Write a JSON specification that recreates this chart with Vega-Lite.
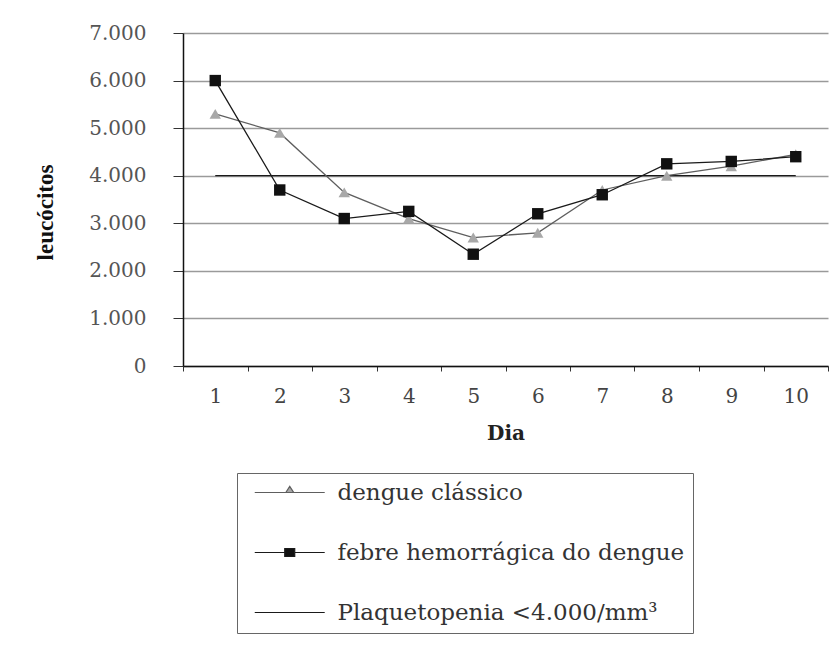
{
  "$schema": "https://vega.github.io/schema/vega-lite/v6.json",
  "autosize": "none",
  "padding": {"left": 183, "top": 33, "right": 6, "bottom": 294},
  "width": 645,
  "height": 333,
  "background": "white",
  "config": {"view": {"stroke": null}},
  "data": {
    "values": [
      {"Dia": 1, "serie": "Plaquetopenia <4.000/mm³", "leucocitos": 4000},
      {"Dia": 2, "serie": "Plaquetopenia <4.000/mm³", "leucocitos": 4000},
      {"Dia": 3, "serie": "Plaquetopenia <4.000/mm³", "leucocitos": 4000},
      {"Dia": 4, "serie": "Plaquetopenia <4.000/mm³", "leucocitos": 4000},
      {"Dia": 5, "serie": "Plaquetopenia <4.000/mm³", "leucocitos": 4000},
      {"Dia": 6, "serie": "Plaquetopenia <4.000/mm³", "leucocitos": 4000},
      {"Dia": 7, "serie": "Plaquetopenia <4.000/mm³", "leucocitos": 4000},
      {"Dia": 8, "serie": "Plaquetopenia <4.000/mm³", "leucocitos": 4000},
      {"Dia": 9, "serie": "Plaquetopenia <4.000/mm³", "leucocitos": 4000},
      {"Dia": 10, "serie": "Plaquetopenia <4.000/mm³", "leucocitos": 4000},
      {"Dia": 1, "serie": "dengue clássico", "leucocitos": 5300},
      {"Dia": 2, "serie": "dengue clássico", "leucocitos": 4900},
      {"Dia": 3, "serie": "dengue clássico", "leucocitos": 3650},
      {"Dia": 4, "serie": "dengue clássico", "leucocitos": 3100},
      {"Dia": 5, "serie": "dengue clássico", "leucocitos": 2700},
      {"Dia": 6, "serie": "dengue clássico", "leucocitos": 2800},
      {"Dia": 7, "serie": "dengue clássico", "leucocitos": 3700},
      {"Dia": 8, "serie": "dengue clássico", "leucocitos": 4000},
      {"Dia": 9, "serie": "dengue clássico", "leucocitos": 4200},
      {"Dia": 10, "serie": "dengue clássico", "leucocitos": 4450},
      {"Dia": 1, "serie": "febre hemorrágica do dengue", "leucocitos": 6000},
      {"Dia": 2, "serie": "febre hemorrágica do dengue", "leucocitos": 3700},
      {"Dia": 3, "serie": "febre hemorrágica do dengue", "leucocitos": 3100},
      {"Dia": 4, "serie": "febre hemorrágica do dengue", "leucocitos": 3250},
      {"Dia": 5, "serie": "febre hemorrágica do dengue", "leucocitos": 2350},
      {"Dia": 6, "serie": "febre hemorrágica do dengue", "leucocitos": 3200},
      {"Dia": 7, "serie": "febre hemorrágica do dengue", "leucocitos": 3600},
      {"Dia": 8, "serie": "febre hemorrágica do dengue", "leucocitos": 4250},
      {"Dia": 9, "serie": "febre hemorrágica do dengue", "leucocitos": 4300},
      {"Dia": 10, "serie": "febre hemorrágica do dengue", "leucocitos": 4400}
    ]
  },
  "encoding": {
    "x": {
      "field": "Dia", "type": "quantitative",
      "scale": {"domain": [0.5, 10.5], "nice": false, "zero": false},
      "axis": {
        "title": "Dia",
        "values": [0.5, 1.5, 2.5, 3.5, 4.5, 5.5, 6.5, 7.5, 8.5, 9.5, 10.5],
        "labelExpr": "datum.value < 10 ? format(datum.value + 0.5, 'd') : ''",
        "labelOffset": 32.25,
        "labelFlush": false, "labelBound": false, "labelOverlap": false,
        "grid": false,
        "domainColor": "#111", "domainWidth": 1.5,
        "tickColor": "#333", "tickSize": 5, "tickWidth": 1,
        "labelFont": "DejaVu Serif", "labelFontSize": 20, "labelColor": "#444",
        "labelPadding": 15,
        "titleFont": "DejaVu Serif", "titleFontSize": 20, "titleFontWeight": "bold", "titleColor": "#222",
        "titlePadding": 17
      }
    },
    "y": {
      "field": "leucocitos", "type": "quantitative",
      "scale": {"domain": [0, 7000], "nice": false},
      "axis": {
        "title": "leucócitos",
        "values": [0, 1000, 2000, 3000, 4000, 5000, 6000, 7000],
        "labelExpr": "replace(format(datum.value, ','), ',', '.')",
        "grid": true, "gridColor": "#9a9a9a", "gridWidth": 1.5,
        "domainColor": "#111", "domainWidth": 1.5,
        "tickColor": "#333", "tickSize": 10, "tickWidth": 1,
        "labelFont": "DejaVu Serif", "labelFontSize": 20, "labelColor": "#555",
        "labelPadding": 27,
        "titleFont": "Liberation Serif", "titleFontSize": 23, "titleFontWeight": "bold", "titleColor": "#111",
        "titleX": -138, "titleY": 179, "titleBaseline": "middle", "titleAlign": "center"
      }
    }
  },
  "layer": [
    {
      "mark": {"type": "line", "strokeWidth": 1.3},
      "encoding": {
        "stroke": {
          "field": "serie", "type": "nominal",
          "scale": {
            "domain": ["dengue clássico", "febre hemorrágica do dengue", "Plaquetopenia <4.000/mm³"],
            "range": ["#5e5e5e", "#1a1a1a", "#1a1a1a"]
          },
          "legend": {
            "title": null,
            "orient": "none", "legendX": 54, "legendY": 440,
            "direction": "vertical",
            "strokeColor": "#666", "padding": 8, "rowPadding": 36,
            "labelFont": "DejaVu Serif", "labelFontSize": 23, "labelColor": "#333",
            "labelOffset": 69.5, "labelLimit": 600,
            "symbolSize": 306,
            "symbolStrokeColor": "#222222",
            "encode": {
              "symbols": {
                "update": {
                  "shape": {"signal": "datum.value === 'dengue clássico' ? 'M-0.2,0H3.35M4.25,0H7.8M3.35,0L3.8,-0.7L4.25,0Z' : (datum.value === 'febre hemorrágica do dengue' ? 'M-0.2,0H3.23M4.37,0H7.8M3.23,-0.46H4.37V0.46H3.23Z' : 'M-0.2,0H7.8')"},
                  "fill": {"signal": "datum.value === 'dengue clássico' ? '#a8a8a8' : '#111111'"},
                  "stroke": {"signal": "'#222222'"},
                  "strokeWidth": {"value": 1.2},
                  "opacity": {"value": 1},
                  "size": {"value": 306}
                }
              }
            }
          }
        },
        "order": {"field": "Dia"}
      }
    },
    {
      "transform": [{"filter": "datum.serie !== 'Plaquetopenia <4.000/mm³'"}],
      "mark": {"type": "point", "filled": true, "opacity": 1, "strokeWidth": 1},
      "encoding": {
        "shape": {
          "field": "serie", "type": "nominal",
          "scale": {
            "domain": ["dengue clássico", "febre hemorrágica do dengue"],
            "range": ["triangle-up", "square"]
          },
          "legend": null
        },
        "fill": {
          "field": "serie", "type": "nominal",
          "scale": {
            "domain": ["dengue clássico", "febre hemorrágica do dengue"],
            "range": ["#a8a8a8", "#111111"]
          },
          "legend": null
        },
        "color": {"value": "#111111"},
        "size": {"value": 130}
      }
    }
  ]
}
